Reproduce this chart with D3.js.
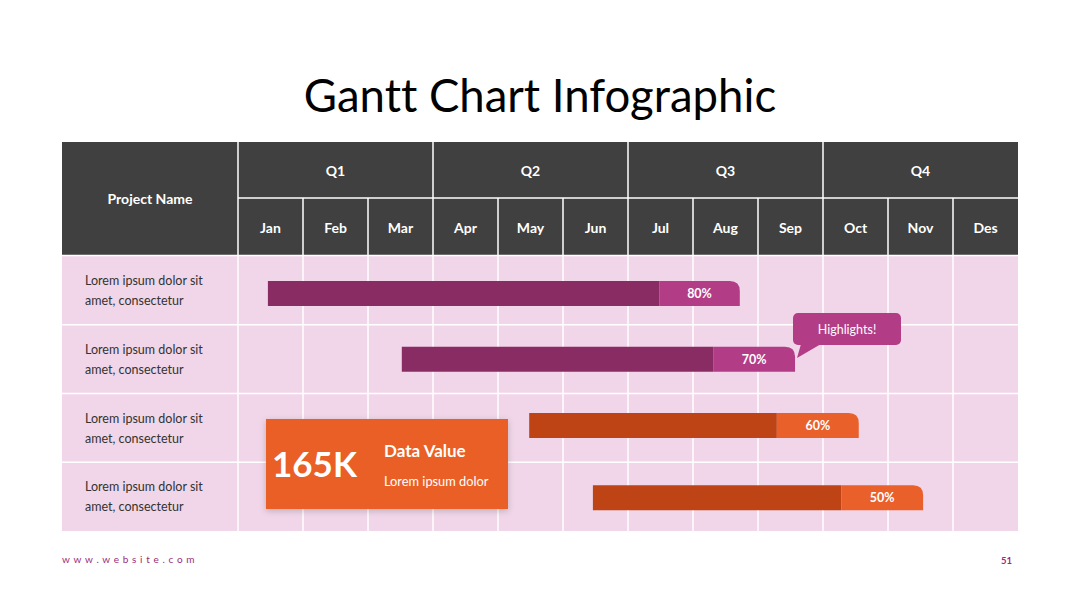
<!DOCTYPE html>
<html><head><meta charset="utf-8">
<script src="https://cdn.jsdelivr.net/npm/d3@7"></script>
<style>body{margin:0;background:#fff}svg{display:block}text{font-variant-ligatures:none}</style>
</head><body>
<svg id="c" width="1080" height="608"></svg>
<script>
const quarters = ["Q1","Q2","Q3","Q4"];
const months = ["Jan","Feb","Mar","Apr","May","Jun","Jul","Aug","Sep","Oct","Nov","Des"];
const projects = ["Lorem ipsum dolor sit|amet, consectetur","Lorem ipsum dolor sit|amet, consectetur","Lorem ipsum dolor sit|amet, consectetur","Lorem ipsum dolor sit|amet, consectetur"];
const taskStart = [0.46, 2.52, 4.48, 5.46];
const taskSplit = [6.48, 7.31, 8.29, 9.28];
const taskEnd = [7.72, 8.57, 9.55, 10.54];
const progressLabels = ["80%","70%","60%","50%"];
const darkColors = ["#8A2C64","#8A2C64","#BE4416","#BE4416"];
const lightColors = ["#B33C87","#B33C87","#E9602B","#E9602B"];

const svg = d3.select("#c");
const font = "Lato, 'Open Sans', sans-serif";
const x = d3.scaleLinear().domain([0,12]).range([238,1018]);
const y = d3.scaleBand().domain(d3.range(projects.length)).range([256,531]);
const left = 62, right = 1018;

// title
svg.append("text").attr("x",540).attr("y",112).attr("text-anchor","middle")
  .attr("font-family",font).attr("font-size",45.5).attr("fill","#000").text("Gantt Chart Infographic");

// header
svg.append("rect").attr("x",left).attr("y",142).attr("width",right-left).attr("height",113).attr("fill","#404040");
svg.append("text").attr("x",150).attr("y",204).attr("text-anchor","middle").attr("font-family",font)
  .attr("font-size",14).attr("font-weight","bold").attr("fill","#fff").text("Project Name");
svg.selectAll(".q").data(quarters).enter().append("text")
  .attr("x",(d,i)=>x(i*3+1.5)).attr("y",176).attr("text-anchor","middle").attr("font-family",font)
  .attr("font-size",14).attr("font-weight","bold").attr("fill","#fff").text(d=>d);
svg.selectAll(".m").data(months).enter().append("text")
  .attr("x",(d,i)=>x(i+0.5)).attr("y",233).attr("text-anchor","middle").attr("font-family",font)
  .attr("font-size",14).attr("font-weight","bold").attr("fill","#fff").text(d=>d);
svg.append("line").attr("x1",x(0)).attr("x2",right).attr("y1",198).attr("y2",198).attr("stroke","#fff").attr("stroke-width",1.5);
d3.range(0,12).forEach(i=>{
  const isQ = i%3===0;
  svg.append("line").attr("x1",x(i)).attr("x2",x(i)).attr("y1",isQ?142:198).attr("y2",255)
    .attr("stroke","#fff").attr("stroke-width",1.5);
});

// body
svg.append("rect").attr("x",left).attr("y",y(0)).attr("width",right-left).attr("height",y.range()[1]-y(0)).attr("fill","#F0D6E8");
d3.range(1,projects.length).forEach(i=>{
  svg.append("line").attr("x1",left).attr("x2",right).attr("y1",y(i)).attr("y2",y(i)).attr("stroke","#fff").attr("stroke-width",1.5);
});
svg.append("line").attr("x1",left).attr("x2",right).attr("y1",255.5).attr("y2",255.5).attr("stroke","#fff").attr("stroke-width",1.5);
d3.range(0,12).forEach(i=>{
  svg.append("line").attr("x1",x(i)).attr("x2",x(i)).attr("y1",256).attr("y2",531).attr("stroke","#fff").attr("stroke-width",1.5);
});
projects.forEach((p,i)=>{
  p.split("|").forEach((l,j)=>{
    svg.append("text").attr("x",85).attr("y",y(i)+29+j*20).attr("font-family",font)
      .attr("font-size",12.5).attr("fill","#333").text(l);
  });
});

// bars
const barH = 25;
const barOff = [25,22,19.5,23];
projects.forEach((p,i)=>{
  const yy = y(i)+barOff[i];
  const x0=x(taskStart[i]), xs=x(taskSplit[i]), x1=x(taskEnd[i]), r=10;
  svg.append("rect").attr("x",x0).attr("y",yy).attr("width",xs-x0).attr("height",barH).attr("fill",darkColors[i]);
  svg.append("path").attr("fill",lightColors[i])
    .attr("d",`M${xs},${yy} H${x1-r} Q${x1},${yy} ${x1},${yy+r} V${yy+barH} H${xs} Z`);
  svg.append("text").attr("x",(xs+x1)/2).attr("y",yy+17).attr("text-anchor","middle").attr("font-family",font)
    .attr("font-size",12.5).attr("font-weight","bold").attr("fill","#fff").text(progressLabels[i]);
});

// highlight callout
const cx0=793, cy0=313, cw=108, ch=32;
svg.append("rect").attr("x",cx0).attr("y",cy0).attr("width",cw).attr("height",ch).attr("rx",5).attr("fill","#B33C87");
svg.append("path").attr("fill","#B33C87").attr("d",`M${cx0+8},${cy0+ch-1} L${cx0+28},${cy0+ch-1} L${cx0+4},${cy0+ch+13} Z`);
svg.append("text").attr("x",cx0+cw/2).attr("y",cy0+21).attr("text-anchor","middle").attr("font-family",font)
  .attr("font-size",12.5).attr("fill","#fff").text("Highlights!");

// data value box
const defs = svg.append("defs");
const f = defs.append("filter").attr("id","sh").attr("x","-20%").attr("y","-20%").attr("width","140%").attr("height","140%");
f.append("feDropShadow").attr("dx",0).attr("dy",2).attr("stdDeviation",3).attr("flood-color","#000").attr("flood-opacity",0.2);
svg.append("rect").attr("x",266).attr("y",419).attr("width",242).attr("height",90).attr("fill","#E95E28").attr("filter","url(#sh)");
svg.append("text").attr("x",272).attr("y",477).attr("font-family",font).attr("font-size",35).attr("font-weight","bold")
  .attr("fill","#fff").text("165K");
svg.append("text").attr("x",384).attr("y",457).attr("font-family",font).attr("font-size",17).attr("font-weight","bold")
  .attr("fill","#fff").text("Data Value");
svg.append("text").attr("x",384).attr("y",486).attr("font-family",font).attr("font-size",12.8).attr("fill","#fff").text("Lorem ipsum dolor");

// footer
svg.append("text").attr("x",62).attr("y",563).attr("font-family",font).attr("font-size",10).attr("letter-spacing",3.7)
  .attr("fill","#9B2C7A").text("www.website.com");
svg.append("text").attr("x",1012).attr("y",564).attr("text-anchor","end").attr("font-family",font).attr("font-size",9.5)
  .attr("font-weight","bold").attr("fill","#9B2C7A").text("51");
</script>
</body></html>
